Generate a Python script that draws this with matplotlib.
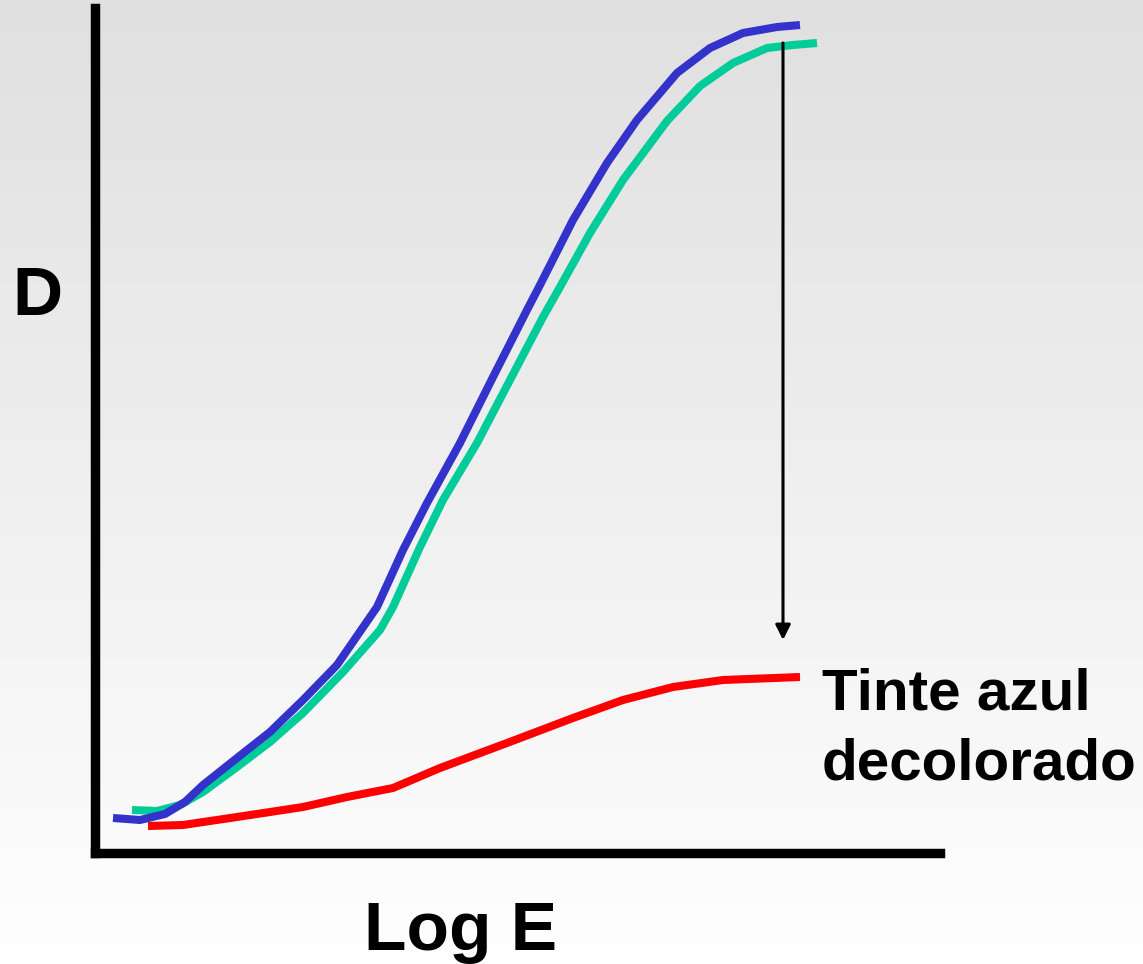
import numpy as np
import matplotlib
matplotlib.use("Agg")
from matplotlib import pyplot as plt

# curve values (x = log E units, y = density units)
blue_x = [18, 45, 70, 90, 108, 142, 175, 208, 242, 282, 308, 332, 365, 398,
          432, 445, 478, 512, 542, 582, 615, 648, 682, 705]
blue_y = [35, 33, 39, 51, 68, 95, 121, 153, 188, 246, 303, 350, 410, 476,
          543, 568, 633, 690, 733, 780, 805, 820, 826, 828]

teal_x = [37, 62, 85, 108, 142, 175, 208, 248, 285, 298, 325, 348, 382, 415,
          448, 465, 495, 528, 572, 605, 638, 672, 698, 722]
teal_y = [43, 42, 48, 61, 86, 111, 140, 181, 223, 246, 306, 353, 410, 473,
          536, 566, 620, 673, 732, 767, 790, 805, 808, 810]

red_x = [53, 88, 142, 208, 252, 298, 345, 412, 478, 528, 578, 628, 705]
red_y = [27, 28, 36, 46, 56, 65, 85, 110, 135, 153, 166, 173, 176]

arrow_x = 688
arrow_from = 810
arrow_to = 213

W, H = 1143, 964
fig = plt.figure(figsize=(W / 100, H / 100), dpi=100)

# background gradient, gray at the top fading to white
bg = fig.add_axes([0, 0, 1, 1])
grad = np.linspace(0.875, 0.995, 256).reshape(-1, 1)
bg.imshow(grad, cmap="gray", vmin=0, vmax=1, aspect="auto", extent=[0, 1, 0, 1])
bg.axis("off")

ax = fig.add_axes([95 / W, (H - 853) / H, 845 / W, 845 / H])
ax.set_facecolor("none")
ax.set_xlim(0, 845)
ax.set_ylim(0, 845)
for s in ["top", "right"]:
    ax.spines[s].set_visible(False)
for s in ["left", "bottom"]:
    ax.spines[s].set_linewidth(6.8)
    ax.spines[s].set_color("black")
ax.set_xticks([])
ax.set_yticks([])

lw = 5.8
style = dict(lw=lw, solid_joinstyle="round", solid_capstyle="butt", clip_on=False)
ax.plot(red_x, red_y, color="#ff0000", **style)
ax.plot(teal_x, teal_y, color="#00cc99", **style)
ax.plot(blue_x, blue_y, color="#3333cc", **style)

ax.annotate("", xy=(arrow_x, arrow_to), xytext=(arrow_x, arrow_from),
            arrowprops=dict(arrowstyle="-|>,head_length=0.9,head_width=0.45",
                            color="black", lw=2.2, shrinkA=0, shrinkB=0))

font = dict(family="Liberation Sans", weight="bold", color="black")
fig.text(12 / W, 1 - 315 / H, "D", fontsize=50, ha="left", va="baseline", **font)
fig.text(461 / W, 1 - 950 / H, "Log E", fontsize=50, ha="center", va="baseline", **font)
fig.text(822 / W, 1 - 710 / H, "Tinte azul", fontsize=42, ha="left", va="baseline", **font)
fig.text(822 / W, 1 - 780 / H, "decolorado", fontsize=42, ha="left", va="baseline", **font)

fig.savefig("out.png", dpi=100)
